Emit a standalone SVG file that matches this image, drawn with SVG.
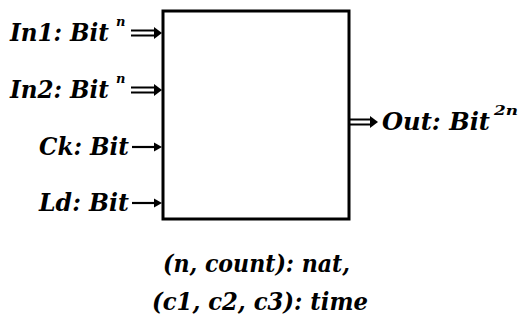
<svg xmlns="http://www.w3.org/2000/svg" width="520" height="331" viewBox="0 0 520 331">
<style>
.t{font-family:"DejaVu Serif","Liberation Serif",serif;font-weight:bold;font-style:italic;font-size:25px;fill:#000}
.s{font-family:"DejaVu Serif","Liberation Serif",serif;font-weight:bold;font-style:italic;font-size:13px;fill:#000}
.ln{stroke:#000;stroke-width:2.2;fill:none}
.box{stroke:#000;stroke-width:3;fill:#fff}
</style>
<rect width="520" height="331" fill="#fff"/>
<g id="block">
<rect class="box" x="163" y="11" width="186" height="208"/>
</g>
<g id="connectors">
<g id="a-in1"><path class="ln" d="M131,30.5 H156 M131,35.5 H156"/><path d="M154,27 L162,33 L154,39 Z"/></g>
<g id="a-in2"><path class="ln" d="M131,87.5 H156 M131,92.5 H156"/><path d="M154,84 L162,90 L154,96 Z"/></g>
<g id="a-ck"><path class="ln" d="M132,147 H156"/><path d="M154,142.5 L162,147 L154,151.5 Z"/></g>
<g id="a-ld"><path class="ln" d="M132,203 H156"/><path d="M154,198.5 L162,203 L154,207.5 Z"/></g>
<g id="a-out"><path class="ln" d="M350,119.5 H372 M350,124.5 H372"/><path d="M370,116 L378,122 L370,128 Z"/></g>
</g>
<g id="in1"><text class="t" x="10" y="41" textLength="99" lengthAdjust="spacingAndGlyphs">In1: Bit</text><text class="s" x="116" y="26">n</text></g>
<g id="in2"><text class="t" x="10" y="98" textLength="99" lengthAdjust="spacingAndGlyphs">In2: Bit</text><text class="s" x="116" y="83">n</text></g>
<g id="ck"><text class="t" x="39" y="155" textLength="90" lengthAdjust="spacingAndGlyphs">Ck: Bit</text></g>
<g id="ld"><text class="t" x="39" y="211" textLength="90" lengthAdjust="spacingAndGlyphs">Ld: Bit</text></g>
<g id="out"><text class="t" x="382" y="130" textLength="108" lengthAdjust="spacingAndGlyphs">Out: Bit</text><text class="s" x="494" y="115" textLength="24" lengthAdjust="spacingAndGlyphs">2n</text></g>
<g id="params">
<text class="t" x="163" y="272" textLength="187" lengthAdjust="spacingAndGlyphs">(n, count): nat,</text>
<text class="t" x="152" y="310" textLength="216" lengthAdjust="spacingAndGlyphs">(c1, c2, c3): time</text>
</g>
</svg>
